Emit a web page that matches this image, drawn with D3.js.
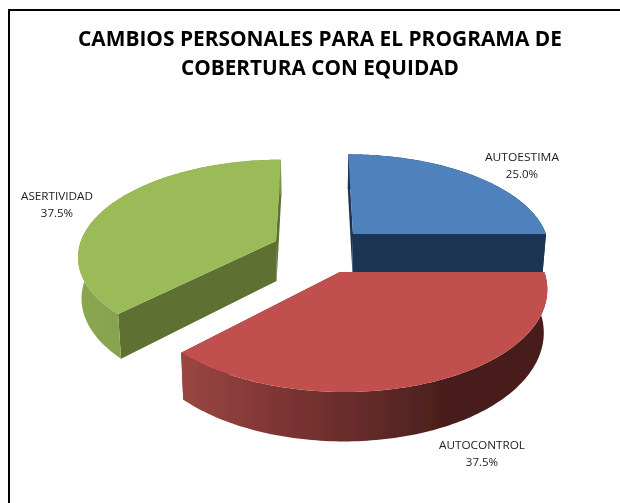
<!DOCTYPE html>
<html><head><meta charset="utf-8">
<script src="https://cdn.jsdelivr.net/npm/d3@7"></script>
<style>html,body{margin:0;padding:0;background:#fff}svg{display:block}</style>
</head><body><svg id="c" width="620" height="503"></svg>
<script>
const titleLines = ["CAMBIOS PERSONALES PARA EL PROGRAMA DE", "COBERTURA CON EQUIDAD"];
const categories = ["AUTOESTIMA", "AUTOCONTROL", "ASERTIVIDAD"];
const values = [25.0, 37.5, 37.5];
const topColors = ["#4f81bd", "#c0504d", "#9bbb59"];
const cutColors = ["#1f3552", "#5c2a28", "#5f7133"];
const explode = [[0.197, 0.3946], [0.122, 0], [-0.2, 0.3184]];
const labelPos = [[522, 161], [482, 449], [57, 200]];
const labelWidth = [74, 86, 72];

const svg = d3.select("#c");
const vx = 315, vy = 272, F = 204.4, K = 102, p = 0.15, D = 42, shrink = 0.985;
const defs = svg.append("defs");
defs.append("filter").attr("id", "soft").attr("x", "-5%").attr("y", "-5%").attr("width", "110%").attr("height", "110%")
  .append("feGaussianBlur").attr("stdDeviation", 0.45);

const pie = d3.pie().sort(null).value(d => d);
const arcs = pie(values);

function proj(X, Y, low) {
  const w = 1 + p * Y;
  const x = F * X / w, y = vy - K * Y / w;
  return low ? [vx + x * shrink, y + D / w] : [vx + x, y];
}
const rim = (i, a, low) => proj(explode[i][0] + Math.sin(a), explode[i][1] + Math.cos(a), low);
const apex = (i, low) => proj(explode[i][0], explode[i][1], low);
const line = d3.line();
const angles = d => d3.range(0, 121).map(k => d.startAngle + (d.endAngle - d.startAngle) * k / 120);

function gradient(id, stops) {
  const g = defs.append("linearGradient").attr("id", id);
  stops.forEach(s => g.append("stop").attr("offset", s[0]).attr("stop-color", s[1]));
}
gradient("sideRed", [[0, "#9a4643"], [0.3, "#7a3331"], [0.55, "#5f2927"], [0.72, "#4a1e1c"], [1, "#4a1f1d"]]);
gradient("sideGreen", [[0, "#8aa650"], [0.6, "#829d4a"], [1, "#7a9445"]]);
gradient("sideBlue", [[0, "#1f3552"], [1, "#1f3552"]]);

const sideFill = ["url(#sideBlue)", "url(#sideRed)", "url(#sideGreen)"];
const pieGroup = svg.append("g").attr("filter", "url(#soft)");

function face(pts, fill) {
  pieGroup.append("path").attr("d", line(pts) + "Z").attr("fill", fill);
}
function drawSlice(i) {
  const d = arcs[i], as = angles(d);
  [d.startAngle, d.endAngle].forEach(a => {
    face([apex(i), rim(i, a), rim(i, a, true), apex(i, true)], cutColors[i]);
  });
  face(as.map(a => rim(i, a)).concat(as.slice().reverse().map(a => rim(i, a, true))), sideFill[i]);
  face([apex(i)].concat(as.map(a => rim(i, a))), topColors[i]);
}
[0, 2, 1].forEach(drawSlice);

// frame
const frame = d3.path();
frame.moveTo(9, 503); frame.lineTo(9, 10); frame.lineTo(620, 10);
svg.append("path").attr("d", frame.toString()).attr("fill", "none").attr("stroke", "#000").attr("stroke-width", 2);

const textGroup = svg.append("g").attr("filter", "url(#soft)");

// title
const titleW = [484, 278], titleY = [46, 75];
titleLines.forEach((t, i) => textGroup.append("text").attr("x", 320).attr("y", titleY[i])
  .attr("text-anchor", "middle").attr("font-family", "'Open Sans',sans-serif").attr("font-weight", 700)
  .attr("font-size", 21).attr("fill", "#000")
  .attr("textLength", titleW[i]).attr("lengthAdjust", "spacingAndGlyphs").text(t));

// labels
categories.forEach((c, i) => {
  const [x, y] = labelPos[i];
  textGroup.append("text").attr("x", x).attr("y", y).attr("text-anchor", "middle")
    .attr("font-family", "'Open Sans',sans-serif").attr("font-size", 11.5).attr("fill", "#222")
    .attr("textLength", labelWidth[i]).attr("lengthAdjust", "spacingAndGlyphs").text(c);
  textGroup.append("text").attr("x", x).attr("y", y + 17).attr("text-anchor", "middle")
    .attr("font-family", "'Open Sans',sans-serif").attr("font-size", 11.5).attr("fill", "#222")
    .text(d3.format(".1f")(values[i]) + "%");
});
</script></body></html>
